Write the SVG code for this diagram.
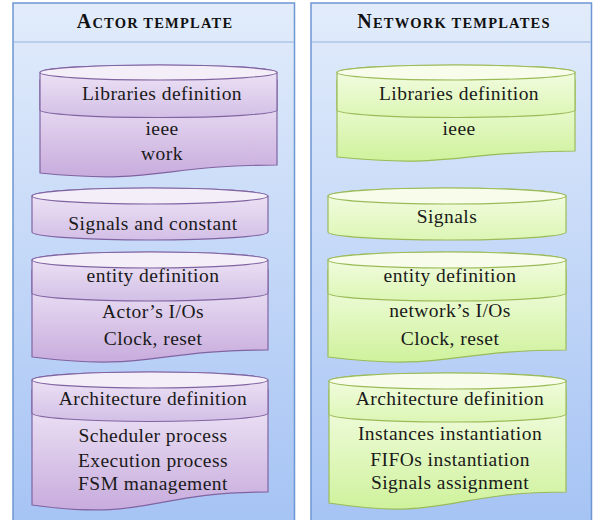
<svg xmlns="http://www.w3.org/2000/svg" width="593" height="520" viewBox="0 0 593 520">
<style>
.panel{stroke:#6d97d2;stroke-width:1.5;fill:url(#gPanel)}
.sep{stroke:#93b3df;stroke-width:1}
.hdr{font-family:"Liberation Serif",serif;font-weight:bold;fill:#111;letter-spacing:1.2px}
.t{font-family:"Liberation Serif",serif;font-size:19.5px;fill:#1a1a1a;text-anchor:middle;letter-spacing:0.45px}
.pc{fill:url(#gPCan);stroke:#8064a2;stroke-width:1.2}
.pd{fill:url(#gPDoc);stroke:#8064a2;stroke-width:1.2}
.pt{fill:#f4eef9;stroke:#8064a2;stroke-width:1.2}
.gc{fill:url(#gGCan);stroke:#9bbb59;stroke-width:1.2}
.gd{fill:url(#gGDoc);stroke:#9bbb59;stroke-width:1.2}
.gt{fill:#f7fdea;stroke:#9bbb59;stroke-width:1.2}
</style>
<defs>
<linearGradient id="gPanel" x1="0" y1="0" x2="0" y2="1"><stop offset="0" stop-color="#e2ecfb"/><stop offset="1" stop-color="#a5c3f4"/></linearGradient>
<linearGradient id="gPCan" x1="0" y1="0" x2="0" y2="1"><stop offset="0" stop-color="#f0e7f7"/><stop offset="1" stop-color="#d3bfe6"/></linearGradient>
<linearGradient id="gPDoc" x1="0" y1="0" x2="0" y2="1"><stop offset="0" stop-color="#f1e9f8"/><stop offset="1" stop-color="#c8acdd"/></linearGradient>
<linearGradient id="gGCan" x1="0" y1="0" x2="0" y2="1"><stop offset="0" stop-color="#f5fde6"/><stop offset="1" stop-color="#dcf6b4"/></linearGradient>
<linearGradient id="gGDoc" x1="0" y1="0" x2="0" y2="1"><stop offset="0" stop-color="#f5fde6"/><stop offset="1" stop-color="#cff29c"/></linearGradient>
</defs>

<g id="actor-panel">
<rect class="panel" x="13" y="3" width="281.5" height="522"/>
<line class="sep" x1="13.75" y1="42" x2="293.75" y2="42"/>
<text class="hdr" x="155" y="28" text-anchor="middle"><tspan font-size="20">A</tspan><tspan font-size="14.5">CTOR TEMPLATE</tspan></text>
</g>

<g id="network-panel">
<rect class="panel" x="311" y="3" width="280.5" height="522"/>
<line class="sep" x1="311.75" y1="42" x2="590.75" y2="42"/>
<text class="hdr" x="454" y="28" text-anchor="middle"><tspan font-size="20">N</tspan><tspan font-size="14.5">ETWORK TEMPLATES</tspan></text>
</g>

<!-- Actor template -->
<g id="a-libraries">
<path class="pd" d="M40,80 L277,80 L277,165 C158.5,165 158.5,185 40,173 Z"/>
<path class="pc" d="M40,72.5 A118.5,7.5 0 0 1 277,72.5 L277,110 A118.5,7.5 0 0 1 40,110 Z"/>
<path class="pt" d="M40,72.5 A118.5,7.5 0 0 1 277,72.5 A118.5,7.5 0 0 1 40,72.5 Z"/>
<text class="t" x="162" y="100">Libraries definition</text>
<text class="t" x="162" y="135">ieee</text>
<text class="t" x="162" y="160">work</text>
</g>

<g id="a-signals">
<path class="pc" d="M32,196 A118,8 0 0 1 268,196 L268,232 A118,8 0 0 1 32,232 Z"/>
<path class="pt" d="M32,196 A118,8 0 0 1 268,196 A118,8 0 0 1 32,196 Z"/>
<text class="t" x="153" y="230">Signals and constant</text>
</g>

<g id="a-entity">
<path class="pd" d="M32,270 L268,270 L268,350 C150,350 150,371.6 32,357 Z"/>
<path class="pc" d="M32,260 A118,8 0 0 1 268,260 L268,293 A118,8 0 0 1 32,293 Z"/>
<path class="pt" d="M32,260 A118,8 0 0 1 268,260 A118,8 0 0 1 32,260 Z"/>
<text class="t" x="153" y="282">entity definition</text>
<text class="t" x="153" y="318">Actor’s I/Os</text>
<text class="t" x="153" y="345">Clock, reset</text>
</g>

<g id="a-architecture">
<path class="pd" d="M32,390 L268,390 L268,492 C150,492 150,521.4 32,505 Z"/>
<path class="pc" d="M32,380 A118,8 0 0 1 268,380 L268,413 A118,8.5 0 0 1 32,413 Z"/>
<path class="pt" d="M32,380 A118,8 0 0 1 268,380 A118,8 0 0 1 32,380 Z"/>
<text class="t" x="153" y="405">Architecture definition</text>
<text class="t" x="153" y="442">Scheduler process</text>
<text class="t" x="153" y="467">Execution process</text>
<text class="t" x="153" y="490">FSM management</text>
</g>

<!-- Network templates -->
<g id="n-libraries">
<path class="gd" d="M337,80 L575,80 L575,151 C456,151 456,169 337,157 Z"/>
<path class="gc" d="M337,72.5 A119,7.5 0 0 1 575,72.5 L575,110 A119,7.5 0 0 1 337,110 Z"/>
<path class="gt" d="M337,72.5 A119,7.5 0 0 1 575,72.5 A119,7.5 0 0 1 337,72.5 Z"/>
<text class="t" x="459" y="100">Libraries definition</text>
<text class="t" x="459" y="135">ieee</text>
</g>

<g id="n-signals">
<path class="gc" d="M328,196 A119,8 0 0 1 566,196 L566,232 A119,8 0 0 1 328,232 Z"/>
<path class="gt" d="M328,196 A119,8 0 0 1 566,196 A119,8 0 0 1 328,196 Z"/>
<text class="t" x="447" y="223">Signals</text>
</g>

<g id="n-entity">
<path class="gd" d="M328,270 L566,270 L566,350 C447,350 447,371.6 328,357 Z"/>
<path class="gc" d="M328,260 A119,8 0 0 1 566,260 L566,293 A119,8 0 0 1 328,293 Z"/>
<path class="gt" d="M328,260 A119,8 0 0 1 566,260 A119,8 0 0 1 328,260 Z"/>
<text class="t" x="450" y="282">entity definition</text>
<text class="t" x="450" y="317">network’s I/Os</text>
<text class="t" x="450" y="345">Clock, reset</text>
</g>

<g id="n-architecture">
<path class="gd" d="M329,390 L566,390 L566,492 C447.5,492 447.5,521.4 329,503 Z"/>
<path class="gc" d="M329,381 A118.5,8 0 0 1 566,381 L566,414 A118.5,8 0 0 1 329,414 Z"/>
<path class="gt" d="M329,381 A118.5,8 0 0 1 566,381 A118.5,8 0 0 1 329,381 Z"/>
<text class="t" x="450" y="405">Architecture definition</text>
<text class="t" x="450" y="440">Instances instantiation</text>
<text class="t" x="450" y="466">FIFOs instantiation</text>
<text class="t" x="450" y="489">Signals assignment</text>
</g>

<g id="connectors"></g>
</svg>
